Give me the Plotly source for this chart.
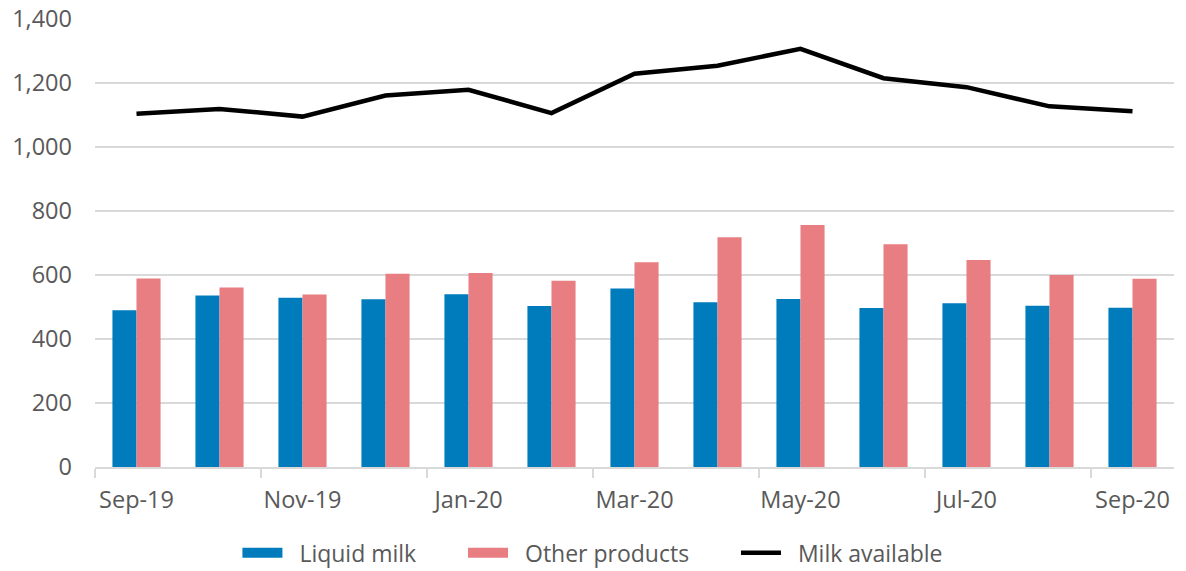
import plotly.graph_objects as go

months = ["Sep-19", "Oct-19", "Nov-19", "Dec-19", "Jan-20", "Feb-20", "Mar-20",
          "Apr-20", "May-20", "Jun-20", "Jul-20", "Aug-20", "Sep-20"]
liquid_milk = [490, 536, 529, 524, 540, 503, 558, 515, 525, 497, 512, 504, 498]
other_products = [589, 561, 539, 604, 606, 582, 640, 718, 756, 696, 647, 600, 588]
milk_available = [1104, 1119, 1095, 1161, 1179, 1106, 1229, 1254, 1307, 1215, 1187, 1127, 1112]
y_ticks = [0, 200, 400, 600, 800, 1000, 1200, 1400]

font_family = "Open Sans, Noto Sans, Arial"
grey_text = "#595959"
blue = "#007BBB"
pink = "#E87D82"
lead = "\u00a0" * 2  # extra room between swatch and label
pad = "\u00a0" * 7   # spacing between legend entries

fig = go.Figure()
fig.add_trace(go.Bar(
    x=months, y=liquid_milk, name="Liquid milk", showlegend=False,
    marker=dict(color=blue, line=dict(width=0)),
))
fig.add_trace(go.Bar(
    x=months, y=other_products, name="Other products", showlegend=False,
    marker=dict(color=pink, line=dict(width=0)),
))
fig.add_trace(go.Scatter(
    x=months, y=milk_available, name="Milk available", mode="lines",
    line=dict(color="black", width=4.5), showlegend=False,
))

# legend-only entries so the swatches come out as wide blocks like the original
for name, colour, width in [(lead + "Liquid milk" + pad, blue, 14),
                            (lead + "Other products" + pad, pink, 14),
                            (lead + "Milk available", "black", 4.5)]:
    fig.add_trace(go.Scatter(
        x=[None], y=[None], name=name, mode="lines",
        line=dict(color=colour, width=width),
    ))

fig.update_layout(
    width=1186, height=571,
    paper_bgcolor="white", plot_bgcolor="white",
    font=dict(family=font_family, color=grey_text, size=23),
    margin=dict(l=95, r=12, t=19, b=104, autoexpand=False),
    barmode="group", bargap=0.42, bargroupgap=0,
    showlegend=True,
    legend=dict(orientation="h", x=0.132, xanchor="left",
                yref="container", y=0.032, yanchor="middle",
                font=dict(size=23, color=grey_text), traceorder="normal",
                itemwidth=40, tracegroupgap=0),
    xaxis=dict(
        type="category", tickmode="linear", tick0=0, dtick=2,
        tickson="boundaries", ticks="outside", ticklen=9, tickcolor="#D9D9D9",
        tickwidth=1.5, showline=True, linecolor="#D9D9D9", linewidth=1.5,
        showgrid=False, tickfont=dict(size=23.5, color=grey_text),
        tickangle=0, ticklabelstandoff=11, automargin=False,
    ),
    yaxis=dict(
        range=[0, 1400], tickvals=y_ticks, tickformat=",",
        showgrid=True, gridcolor="#D9D9D9", gridwidth=1.5,
        zeroline=False, tickfont=dict(size=23.5, color=grey_text),
        ticks="", ticklabelstandoff=22, automargin=False,
    ),
)

# drop the browser's default 8px body margin so the figure sits at the page corner
fig.write_html("out.html", config={"displayModeBar": False},
               post_script="document.body.style.margin='0';")
